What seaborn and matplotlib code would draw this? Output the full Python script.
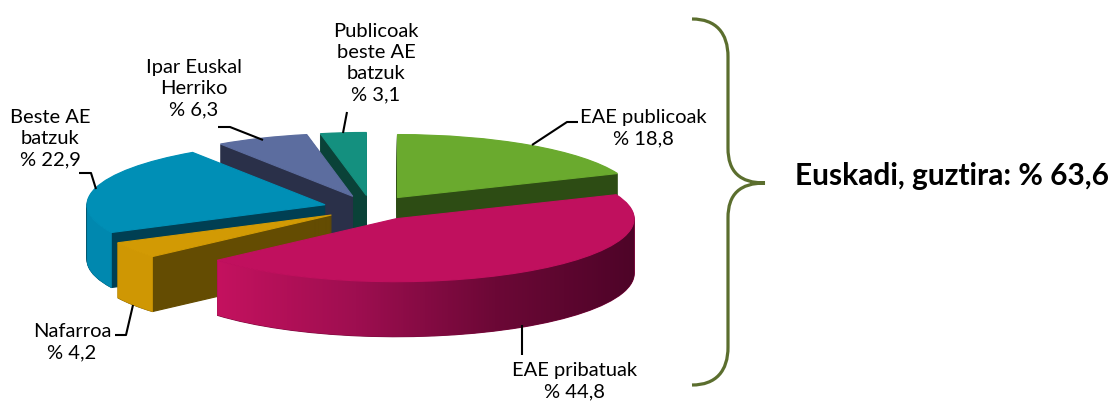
import numpy as np
import matplotlib
matplotlib.use("Agg")
import matplotlib.pyplot as plt
import seaborn as sns
from matplotlib.colors import LinearSegmentedColormap
from matplotlib.patches import Polygon, PathPatch
from matplotlib.path import Path

# data (clockwise from 12 o'clock)
labels = ["EAE publicoak", "EAE pribatuak", "Nafarroa", "Beste AE\nbatzuk",
          "Ipar Euskal\nHerriko", "Publicoak\nbeste AE\nbatzuk"]
shares = [18.8, 44.8, 4.2, 22.9, 6.3, 3.1]
pct_labels = ["% 18,8", "% 44,8", "% 4,2", "% 22,9", "% 6,3", "% 3,1"]
total_label = "Euskadi, guztira: % 63,6"

top_colors = ["#6aaa2e", "#c0105e", "#d29a04", "#008fb6", "#5c6d9f", "#14907f"]
side_colors = ["#2d4c14", "#7a0a3c", "#644c02", "#003f53", "#2a3049", "#0a4238"]
rim_colors = [None, "grad", "#cf9703", "#0088af", None, None]
explode = [0.2] * len(shares)

sns.set_theme(style="white")
plt.rcParams['font.family'] = ['Lato', 'DejaVu Sans']

W, H = 1115, 403
fig = plt.figure(figsize=(W / 100, H / 100), dpi=100)
fig.patch.set_facecolor("white")
ax = fig.add_axes([0, 0, 1, 1])

# flattened 3d pie: pixel centre, radii and thickness
cx, cy, rx, ry = 371, 208, 238, 63
depth = 55
n_layers = 55
dz = depth / ry


def pie_layer(yoff, colors):
    wedges, _ = ax.pie(shares, colors=colors, explode=explode, startangle=90,
                       counterclock=False, center=(0, yoff),
                       wedgeprops=dict(linewidth=0))
    for w in wedges:
        w.set_edgecolor(w.get_facecolor())
        w.set_linewidth(0.8)
    return wedges


# side walls (cut faces) as stacked darker layers
for i in range(n_layers, 0, -1):
    pie_layer(-dz * i / n_layers, side_colors)

tops = pie_layer(0, top_colors)
for w in tops:
    w.set_zorder(3)

# lit outer rims on the front half
grad = LinearSegmentedColormap.from_list("rim", ["#c4125f", "#9e0e50", "#6c0836", "#4e0428"])
for w, rc in zip(tops, rim_colors):
    if rc is None:
        continue
    t = np.radians(np.linspace(w.theta1, w.theta2, 300))
    t = t[np.sin(t) <= 0]
    if len(t) < 2:
        continue
    x = w.center[0] + w.r * np.cos(t)
    y = w.center[1] + w.r * np.sin(t)
    pts = np.column_stack([np.r_[x, x[::-1]], np.r_[y, y[::-1] - dz]])
    if rc == "grad":
        clip = Polygon(pts, closed=True, transform=ax.transData,
                       facecolor="none", edgecolor="none")
        ax.add_patch(clip)
        im = ax.imshow(np.linspace(0, 1, 256)[None, :], cmap=grad, aspect="auto",
                       extent=(x.min(), x.max(), pts[:, 1].min(), pts[:, 1].max()),
                       zorder=2)
        im.set_clip_path(clip)
    else:
        ax.add_patch(Polygon(pts, closed=True, facecolor=rc, edgecolor=rc,
                             lw=0.5, zorder=2))

ax.set_aspect("auto")
ax.set_xlim((0 - cx) / rx, (W - cx) / rx)
ax.set_ylim((cy - H) / ry, cy / ry)
ax.axis("off")

# overlay in pixel coordinates for labels
ov = fig.add_axes([0, 0, 1, 1])
ov.set_xlim(0, W)
ov.set_ylim(H, 0)
ov.axis("off")
ov.patch.set_alpha(0)

label_xy = [(643, 128), (575, 381), (72, 342), (50, 139), (194, 89), (376, 63)]
leaders = [
    [(532, 145), (567, 122), (578, 122)],
    [(522, 325), (522, 355)],
    [(133, 305), (126, 335), (115, 335)],
    [(96, 189), (91, 173), (79, 173)],
    [(263, 140), (230, 127), (218, 127)],
    [(343, 133), (347, 112)],
]
for name, pct, (x, y), pts in zip(labels, pct_labels, label_xy, leaders):
    ov.text(x, y, name + "\n" + pct, ha="center", va="center", fontsize=14.5,
            linespacing=1.3, color="black")
    xs, ys = zip(*pts)
    ov.plot(xs, ys, color="black", lw=1.5, solid_capstyle="butt")

# curly brace
verts = [(692, 19), (716, 19), (728, 33), (728, 57),
         (728, 148),
         (728, 172), (740, 183), (765, 183),
         (740, 183), (728, 194), (728, 218),
         (728, 347),
         (728, 371), (716, 385), (692, 385)]
codes = [Path.MOVETO, Path.CURVE4, Path.CURVE4, Path.CURVE4,
         Path.LINETO,
         Path.CURVE4, Path.CURVE4, Path.CURVE4,
         Path.CURVE4, Path.CURVE4, Path.CURVE4,
         Path.LINETO,
         Path.CURVE4, Path.CURVE4, Path.CURVE4]
ov.add_patch(PathPatch(Path(verts, codes), facecolor="none", edgecolor="#5b6e2e", lw=2.3))

ov.text(795, 185, total_label, ha="left", va="baseline", fontsize=21.5,
        fontweight="bold", color="black")

fig.savefig("out.png", dpi=100, facecolor="white")
